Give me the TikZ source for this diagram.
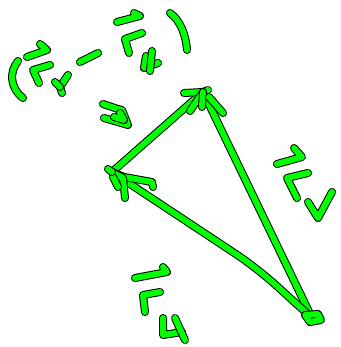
\documentclass[tikz,border=0pt]{standalone}
\usepackage{tikz}
\usetikzlibrary{calc}
\definecolor{inkgreen}{HTML}{00FF00}

\begin{document}
\begin{tikzpicture}[
  x=1pt, y=-1pt,
  stroke/.style={draw=inkgreen, line width=6pt, line cap=round, line join=round,
    preaction={draw=black, line width=8pt, line cap=round, line join=round}}
]
  \useasboundingbox (0,0) rectangle (340,347);

  % triangle corners
  \coordinate (top) at (203,92);
  \coordinate (left) at (112,172);
  \coordinate (bot) at (312,318);

  % sides
  \draw[stroke] (left) -- (top);
  \draw[stroke] (top) -- (bot);
  \draw[stroke, rounded corners=25pt] (bot) -- (257,268) -- (left);

  % arrow heads
  \draw[stroke] (top) -- ++(-19,1);
  \draw[stroke] (top) -- ++(5,-2);
  \draw[stroke] (top) -- ++(-13,19);
  \draw[stroke] (top) -- ++(-1,15);
  \draw[stroke] (top) ++(6,5) -- ++(14,16);
  \draw[stroke] (left) -- ++(12,5) -- ++(28,5) -- ++(1,5);
  \draw[stroke] (left) -- ++(11,6) -- ++(2,20);
  \draw[stroke] (left) ++(1,5) -- ++(5,10);
  \draw[stroke] (left) -- ++(-4,-3);
  \draw[stroke] (bot) ++(-7,-3) -- ++(13,-1) -- ++(3,6) -- ++(-11,2) -- cycle;

  % label (v1 - v4)
  \draw[stroke] (18,61) .. controls (9,72) and (10,88) .. (23,98);
  \draw[stroke] (27,57) -- (47,50) -- (40,44);
  \draw[stroke] (50,65) -- (33,70) -- (39,83);
  \draw[stroke] (68,75) -- (60,87) -- (62,93);
  \draw[stroke] (55,82) -- (60,87);
  \draw[stroke] (80,62) -- (98,53);
  \draw[stroke] (117,22) -- (140,16) -- (134,13);
  \draw[stroke] (142,33) -- (125,39) -- (129,53);
  \draw[stroke] (146,56) -- (144,68) -- (158,63);
  \draw[stroke] (152,51) -- (150,71);
  \draw[stroke] (170,13) .. controls (180,20) and (186,35) .. (187,50);

  % label a
  \draw[stroke] (103,104) -- (118,109) -- (122,110) -- (128,125) -- (104,118);
  \draw[stroke] (120,113) -- (124,120) -- (114,117);

  % label right side
  \draw[stroke] (277,164) -- (302,157) -- (294,148);
  \draw[stroke] (308,173) -- (287,178) -- (297,198);
  \draw[stroke] (308,202) -- (318,218) -- (332,192);

  % label bottom side
  \draw[stroke] (135,278) -- (167,272) -- (163,267);
  \draw[stroke] (160,292) -- (143,295) -- (145,312);
  \draw[stroke] (163,318) -- (163,335) -- (182,332);
  \draw[stroke] (175,318) -- (185,340);
\end{tikzpicture}
\end{document}
